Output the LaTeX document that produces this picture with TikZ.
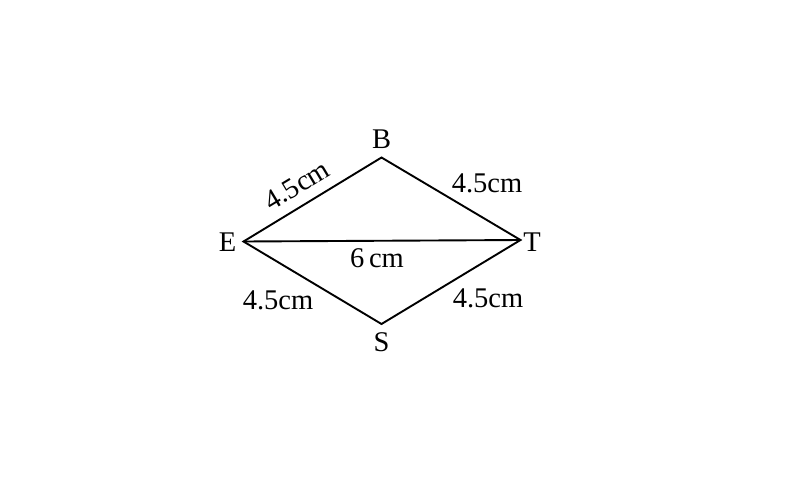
\documentclass[tikz,border=0pt]{standalone}
\usepackage{fontspec}
\setmainfont{Liberation Serif}
\begin{document}
\begin{tikzpicture}[x=1pt,y=-1pt,
  edge/.style={line width=1.9pt,line join=miter},
  lab/.style={font=\fontsize{28.5}{30}\selectfont,inner sep=0pt},
  vlab/.style={font=\fontsize{28.5}{30}\selectfont,inner sep=0pt}]
\useasboundingbox (0,0) rectangle (786,485);
\coordinate (E) at (243.5,241.5);
\coordinate (B) at (381.5,157.5);
\coordinate (T) at (520.5,240);
\coordinate (S) at (381.5,324);
\draw[edge] (E) -- (B) -- (T) -- (S) -- cycle;
\draw[edge] (E) -- (T);
\node[vlab] (lB) at (381.5,139) {B};
\node[vlab] (lE) at (227.5,242) {E};
\node[vlab] (lT) at (532,242) {T};
\node[vlab] (lS) at (381.5,342) {S};
\node[lab] (d6) at (377,258) {6\,cm};
\node[lab,rotate=31] (dEB) at (297,185) {4.5cm};
\node[lab] (dBT) at (487,183) {4.5cm};
\node[lab] (dES) at (278,300) {4.5cm};
\node[lab] (dST) at (488,298) {4.5cm};
\end{tikzpicture}
\end{document}
